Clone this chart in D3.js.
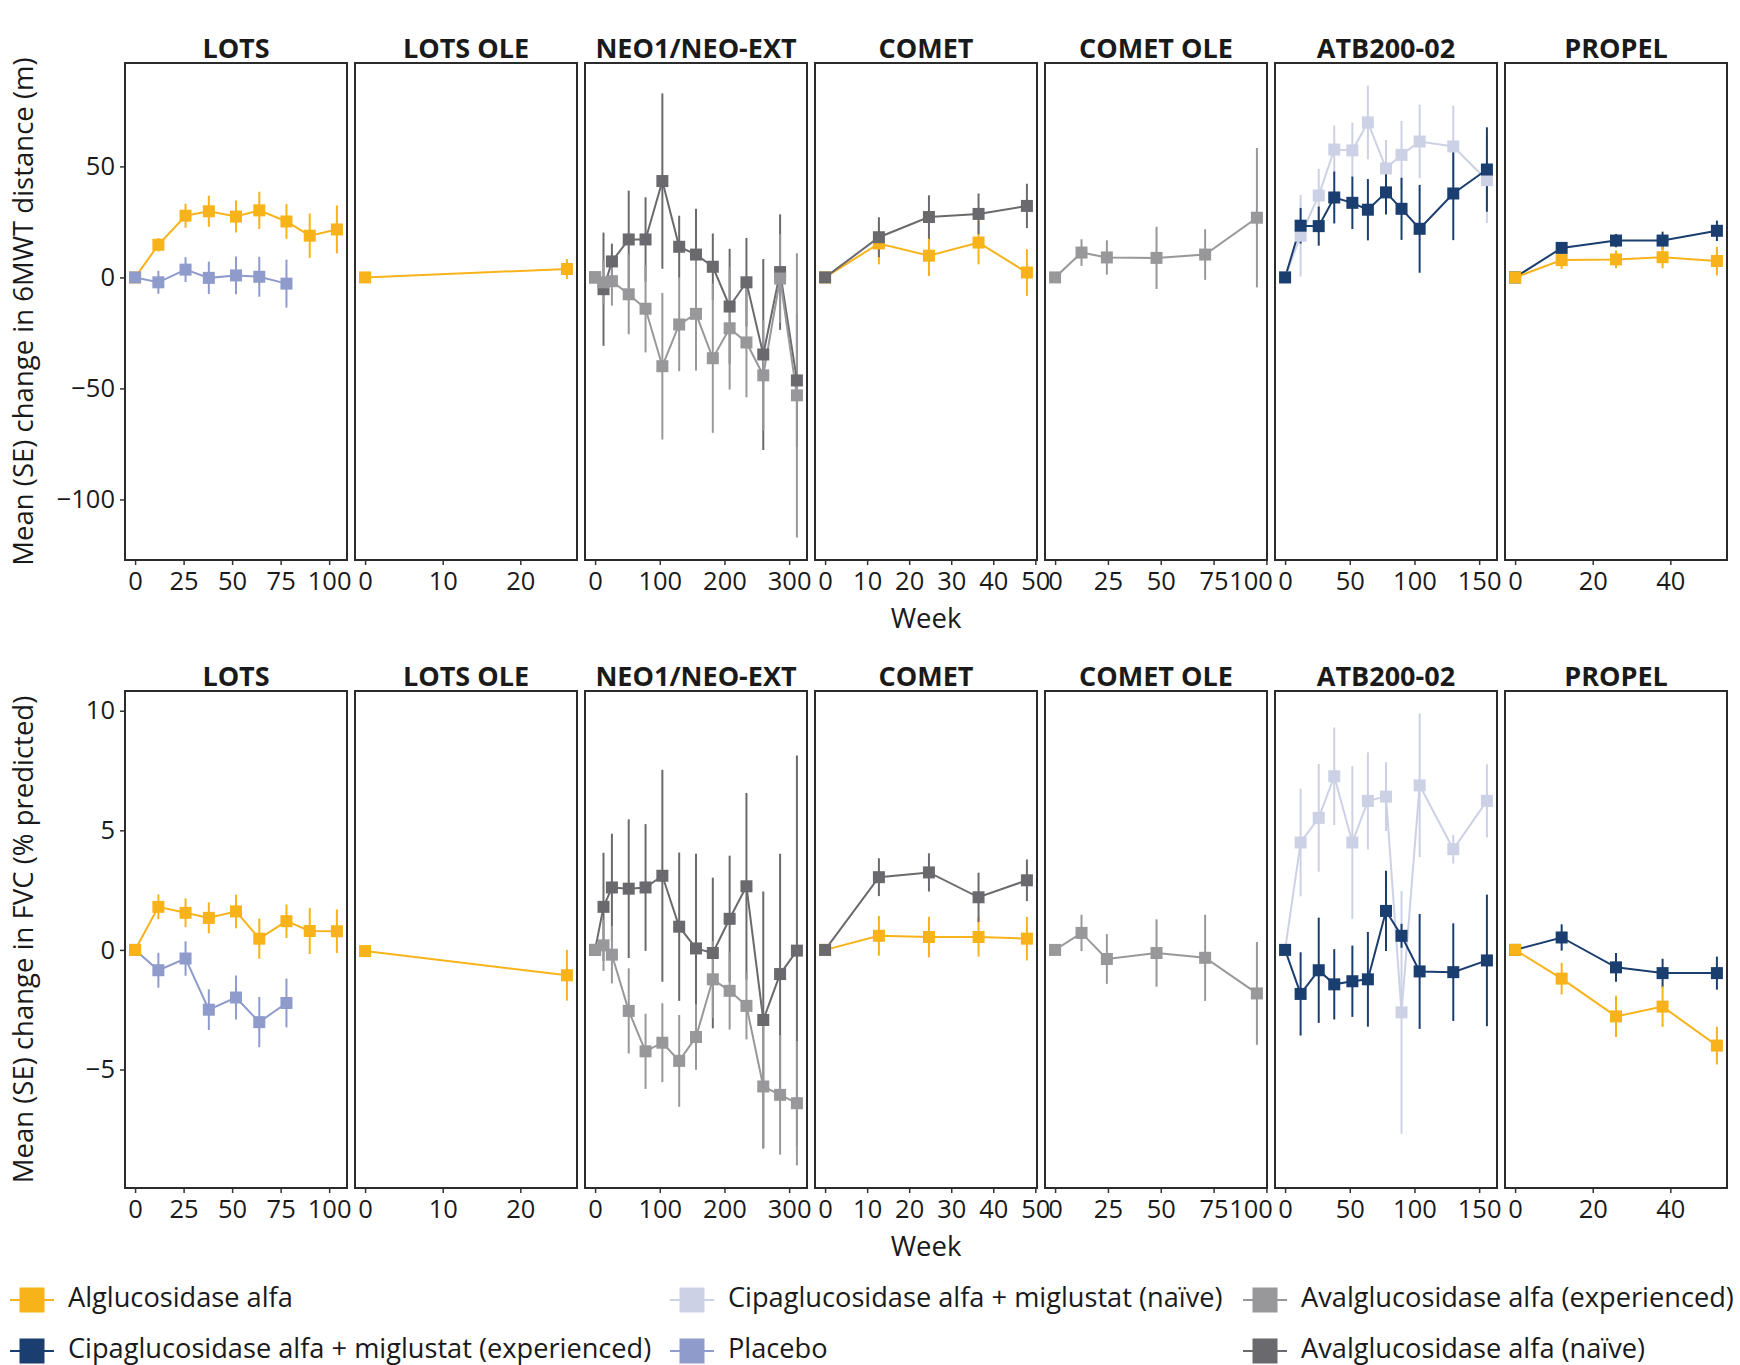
<!DOCTYPE html>
<html>
<head>
<meta charset="utf-8">
<script src="https://cdn.jsdelivr.net/npm/d3@7"></script>
<style>
  body { margin: 0; background: #fff; }
  text { font-family: "Open Sans", sans-serif; fill: #1a1a1a; }
</style>
</head>
<body>
<svg id="chart" width="1740" height="1365"></svg>
<script>
// studies (facets) and treatments (legend order)
const studies = ["LOTS", "LOTS OLE", "NEO1/NEO-EXT", "COMET", "COMET OLE", "ATB200-02", "PROPEL"];
const treatments = [
  "Alglucosidase alfa",
  "Cipaglucosidase alfa + miglustat (experienced)",
  "Cipaglucosidase alfa + miglustat (naïve)",
  "Placebo",
  "Avalglucosidase alfa (experienced)",
  "Avalglucosidase alfa (naïve)"
];
const trtColors = ["#f8b31a", "#1a3e6f", "#cdd1e5", "#8e9bcb", "#98989b", "#6a6a6e"];

const xTicks = [
  [0, 25, 50, 75, 100], [0, 10, 20], [0, 100, 200, 300], [0, 10, 20, 30, 40, 50],
  [0, 25, 50, 75, 100], [0, 50, 100, 150], [0, 20, 40]
];
const yTicks6mwt = [-100, -50, 0, 50];
const yTicksFvc = [-5, 0, 5, 10];
const yTitles = ["Mean (SE) change in 6MWT distance (m)", "Mean (SE) change in FVC (% predicted)"];

// ---- weeks
const lotsWeeks = [0, 12, 26, 38, 52, 64, 78, 90, 104];
const lotsPlaceboWeeks = [0, 12, 26, 38, 52, 64, 78];
const lotsOleWeeks = [0, 26];
const neoWeeks = [0, 13, 26, 52, 78, 104, 130, 156, 182, 208, 234, 260, 286, 312];
const cometWeeks = [0, 12.8, 24.7, 36.5, 48];
const cometOleWeeks = [0, 12.5, 24.5, 48, 71, 95.5];
const atbWeeks = [0, 12, 26, 38, 52, 64, 78, 90, 104, 130, 156];
const propelWeeks = [0, 12, 26, 38, 52];

// ---- 6MWT (m): mean and SE
const lots6mwtAlg = [0, 14.7, 27.8, 29.8, 27.4, 30.2, 25.2, 18.8, 21.6];
const lots6mwtAlgSE = [0, 3, 5.4, 7, 7.2, 8.4, 7.8, 10, 10.8];
const lots6mwtPla = [0, -2.2, 3.5, -0.2, 0.9, 0.3, -2.8];
const lots6mwtPlaSE = [0, 5.2, 5.6, 7.3, 8.5, 9, 10.8];
const lotsOle6mwtAlg = [0, 3.8];
const lotsOle6mwtAlgSE = [0, 4.5];
const neo6mwtNaive = [0, -5.3, 7.2, 17.1, 17.1, 43.4, 13.8, 10.3, 4.8, -13.1, -2.2, -34.7, 2.4, -46.4];
const neo6mwtNaiveSE = [0, 25.5, 8, 22, 19, 39.5, 14, 20.6, 15, 26, 20, 43, 26, 30];
const neo6mwtExp = [0, -2.2, -1.7, -7.6, -14.1, -40, -21.2, -16.4, -36.4, -22.9, -29.3, -44.1, -0.5, -53.1];
const neo6mwtExpSE = [0, 10, 11, 18, 19.7, 33, 21, 25.5, 33.6, 27.6, 24.7, 25, 20, 64];
const comet6mwtAlg = [0, 15.3, 9.8, 15.7, 2.2];
const comet6mwtAlgSE = [0, 9.4, 9.2, 9.8, 10.5];
const comet6mwtNaive = [0, 18.1, 27.2, 28.6, 32.2];
const comet6mwtNaiveSE = [0, 9, 9.8, 9.2, 10];
const cometOle6mwtExp = [0, 11.2, 9, 8.8, 10.3, 26.9];
const cometOle6mwtExpSE = [0, 6, 7.7, 14, 11.4, 31.4];
const atb6mwtExp = [0, 23.3, 23.1, 36, 33.6, 30.5, 38.3, 30.9, 21.9, 37.8, 48.6];
const atb6mwtExpSE = [0, 8, 8.8, 11.7, 11.8, 13.8, 10, 14, 19.8, 21, 19];
const atb6mwtNaive = [0, 18.8, 36.9, 57.6, 57.2, 69.8, 49.1, 55.2, 61.2, 59, 43.8];
const atb6mwtNaiveSE = [0, 18.4, 12, 10.8, 12.5, 16.6, 12.8, 15.3, 16.6, 18.4, 19.3];
const propel6mwtAlg = [0, 7.8, 8.1, 9.1, 7.4];
const propel6mwtAlgSE = [0, 4, 4, 5, 6.5];
const propel6mwtCipa = [0, 13.3, 16.6, 16.6, 21];
const propel6mwtCipaSE = [0, 2.5, 3, 4, 4.6];

// ---- FVC (% predicted): mean and SE
const lotsFvcAlg = [0, 1.8, 1.55, 1.34, 1.61, 0.47, 1.2, 0.79, 0.78];
const lotsFvcAlgSE = [0, 0.52, 0.6, 0.65, 0.7, 0.84, 0.7, 0.96, 0.91];
const lotsFvcPla = [0, -0.85, -0.36, -2.5, -1.99, -3.02, -2.22];
const lotsFvcPlaSE = [0, 0.73, 0.72, 0.85, 0.92, 1.05, 1.02];
const lotsOleFvcAlg = [-0.05, -1.06];
const lotsOleFvcAlgSE = [0, 1.06];
const neoFvcNaive = [0, 1.8, 2.61, 2.56, 2.61, 3.1, 0.97, 0.06, -0.13, 1.3, 2.66, -2.93, -1.01, -0.03];
const neoFvcNaiveSE = [0, 2.26, 2.25, 2.9, 2.65, 4.43, 3.1, 3.96, 3.15, 2.64, 3.9, 5.37, 5.03, 8.16];
const neoFvcExp = [0, 0.19, -0.2, -2.55, -4.24, -3.88, -4.64, -3.64, -1.23, -1.71, -2.34, -5.71, -6.06, -6.41];
const neoFvcExpSE = [0, 1.07, 1.2, 1.78, 1.57, 1.65, 1.92, 1.37, 1.6, 1.62, 1.4, 2.56, 2.5, 2.6];
const cometFvcAlg = [0, 0.59, 0.54, 0.54, 0.47];
const cometFvcAlgSE = [0, 0.83, 0.85, 0.82, 0.91];
const cometFvcNaive = [0, 3.04, 3.24, 2.2, 2.91];
const cometFvcNaiveSE = [0, 0.79, 0.8, 1.03, 0.87];
const cometOleFvcExp = [0, 0.71, -0.38, -0.13, -0.33, -1.82];
const cometOleFvcExpSE = [0, 0.76, 1.04, 1.41, 1.8, 2.15];
const atbFvcExp = [0, -1.84, -0.85, -1.44, -1.31, -1.23, 1.63, 0.59, -0.9, -0.93, -0.44];
const atbFvcExpSE = [0, 1.74, 2.2, 1.47, 1.49, 1.98, 1.68, 0.5, 2.4, 2.04, 2.75];
const atbFvcNaive = [0, 4.49, 5.52, 7.26, 4.49, 6.23, 6.41, -2.61, 6.88, 4.21, 6.23];
const atbFvcNaiveSE = [0, 2.25, 2.25, 2.04, 3.19, 2.03, 1.44, 5.07, 3, 0.6, 1.53];
const propelFvcAlg = [0, -1.2, -2.78, -2.37, -4.0];
const propelFvcAlgSE = [0, 0.66, 0.86, 0.85, 0.79];
const propelFvcCipa = [0, 0.52, -0.73, -0.97, -0.97];
const propelFvcCipaSE = [0, 0.55, 0.6, 0.6, 0.69];

// series table: [row, study, treatment, weeks, mean, se]  (listed in drawing order)
const seriesDefs = [
  [0, 0, 0, lotsWeeks, lots6mwtAlg, lots6mwtAlgSE],
  [0, 0, 3, lotsPlaceboWeeks, lots6mwtPla, lots6mwtPlaSE],
  [0, 1, 0, lotsOleWeeks, lotsOle6mwtAlg, lotsOle6mwtAlgSE],
  [0, 2, 5, neoWeeks, neo6mwtNaive, neo6mwtNaiveSE],
  [0, 2, 4, neoWeeks, neo6mwtExp, neo6mwtExpSE],
  [0, 3, 0, cometWeeks, comet6mwtAlg, comet6mwtAlgSE],
  [0, 3, 5, cometWeeks, comet6mwtNaive, comet6mwtNaiveSE],
  [0, 4, 4, cometOleWeeks, cometOle6mwtExp, cometOle6mwtExpSE],
  [0, 5, 2, atbWeeks, atb6mwtNaive, atb6mwtNaiveSE],
  [0, 5, 1, atbWeeks, atb6mwtExp, atb6mwtExpSE],
  [0, 6, 1, propelWeeks, propel6mwtCipa, propel6mwtCipaSE],
  [0, 6, 0, propelWeeks, propel6mwtAlg, propel6mwtAlgSE],
  [1, 0, 3, lotsPlaceboWeeks, lotsFvcPla, lotsFvcPlaSE],
  [1, 0, 0, lotsWeeks, lotsFvcAlg, lotsFvcAlgSE],
  [1, 1, 0, lotsOleWeeks, lotsOleFvcAlg, lotsOleFvcAlgSE],
  [1, 2, 5, neoWeeks, neoFvcNaive, neoFvcNaiveSE],
  [1, 2, 4, neoWeeks, neoFvcExp, neoFvcExpSE],
  [1, 3, 0, cometWeeks, cometFvcAlg, cometFvcAlgSE],
  [1, 3, 5, cometWeeks, cometFvcNaive, cometFvcNaiveSE],
  [1, 4, 4, cometOleWeeks, cometOleFvcExp, cometOleFvcExpSE],
  [1, 5, 2, atbWeeks, atbFvcNaive, atbFvcNaiveSE],
  [1, 5, 1, atbWeeks, atbFvcExp, atbFvcExpSE],
  [1, 6, 1, propelWeeks, propelFvcCipa, propelFvcCipaSE],
  [1, 6, 0, propelWeeks, propelFvcAlg, propelFvcAlgSE]
];

const series = seriesDefs.map(([row, study, trt, weeks, mean, se]) => ({
  row, study, trt,
  pts: weeks.map((w, i) => ({ w, m: mean[i], se: se[i] }))
}));

// layout
const panelX0 = 125, panelW = 222, panelStep = 230;
const rowTop = [63, 691], panelH = 497;
const pointSize = 12;

const svg = d3.select("#chart");

// expand like ggplot (5% each side)
function expand(ext) {
  const pad = (ext[1] - ext[0]) * 0.05;
  return [ext[0] - pad, ext[1] + pad];
}

const yScales = [0, 1].map(r => {
  const rs = series.filter(s => s.row === r).flatMap(s => s.pts);
  const ext = [d3.min(rs, p => p.m - p.se), d3.max(rs, p => p.m + p.se)];
  return d3.scaleLinear().domain(expand(ext)).range([rowTop[r] + panelH, rowTop[r]]);
});

const xScales = studies.map((st, i) => {
  const ws = series.filter(s => s.study === i).flatMap(s => s.pts.map(p => p.w));
  const left = panelX0 + i * panelStep;
  return d3.scaleLinear().domain(expand(d3.extent(ws))).range([left, left + panelW]);
});

const line = d3.line();

[0, 1].forEach(r => {
  const y = yScales[r];
  const top = rowTop[r];

  studies.forEach((st, i) => {
    const x = xScales[i];
    const left = panelX0 + i * panelStep;
    const g = svg.append("g");

    // strip title
    g.append("text")
      .attr("x", left + panelW / 2)
      .attr("y", top - 5)
      .attr("text-anchor", "middle")
      .style("font-weight", "700")
      .style("font-size", "27px")
      .text(st);

    const ps = series.filter(s => s.row === r && s.study === i);

    // error bars
    ps.forEach(s => {
      g.append("g").selectAll("line")
        .data(s.pts.filter(p => p.se > 0))
        .enter().append("line")
        .attr("x1", p => x(p.w)).attr("x2", p => x(p.w))
        .attr("y1", p => y(p.m - p.se)).attr("y2", p => y(p.m + p.se))
        .attr("stroke", trtColors[s.trt])
        .attr("stroke-width", 2);
    });
    // lines
    ps.forEach(s => {
      g.append("path")
        .attr("d", line(s.pts.map(p => [x(p.w), y(p.m)])))
        .attr("fill", "none")
        .attr("stroke", trtColors[s.trt])
        .attr("stroke-width", 2);
    });
    // points
    ps.forEach(s => {
      g.append("g").selectAll("rect")
        .data(s.pts)
        .enter().append("rect")
        .attr("x", p => x(p.w) - pointSize / 2)
        .attr("y", p => y(p.m) - pointSize / 2)
        .attr("width", pointSize)
        .attr("height", pointSize)
        .attr("fill", trtColors[s.trt]);
    });

    // x axis
    const xa = g.append("g")
      .attr("transform", `translate(0, ${top + panelH})`)
      .call(d3.axisBottom(x).tickValues(xTicks[i]).tickSize(5).tickPadding(7));
    xa.select(".domain").remove();
    xa.selectAll("line").attr("stroke", "#333").attr("stroke-width", 1.5);
    xa.selectAll("text").style("font-size", "25.5px").attr("fill", "#1a1a1a")
      .style("font-family", "'Open Sans', sans-serif");
    // the last COMET OLE label sits against the panel edge, pulled left as in the original
    if (i === 4) {
      xa.selectAll("text").filter(d => d === 100)
        .attr("text-anchor", "end").attr("dx", 6);
    }

    // y axis only on the first panel
    if (i === 0) {
      const ya = g.append("g")
        .attr("transform", `translate(${left}, 0)`)
        .call(d3.axisLeft(y).tickValues(r === 0 ? yTicks6mwt : yTicksFvc)
          .tickSize(5).tickPadding(5).tickFormat(d => d < 0 ? "\u2212" + Math.abs(d) : d));
      ya.select(".domain").remove();
      ya.selectAll("line").attr("stroke", "#333").attr("stroke-width", 1.5);
      ya.selectAll("text").style("font-size", "25.5px").attr("fill", "#1a1a1a")
        .style("font-family", "'Open Sans', sans-serif");
    }

    // panel border
    g.append("rect")
      .attr("x", left).attr("y", top)
      .attr("width", panelW).attr("height", panelH)
      .attr("fill", "none")
      .attr("stroke", "#2b2b2b")
      .attr("stroke-width", 2);
  });

  // y title
  svg.append("text")
    .attr("transform", `translate(33, ${top + panelH / 2}) rotate(-90)`)
    .attr("text-anchor", "middle")
    .style("font-size", "27.5px")
    .text(yTitles[r]);

  // x title
  svg.append("text")
    .attr("x", (panelX0 + 6 * panelStep + panelW + panelX0) / 2)
    .attr("y", top + panelH + 68)
    .attr("text-anchor", "middle")
    .style("font-size", "27.5px")
    .text("Week");
});

// legend: 3 columns x 2 rows, filled by column
const legendColX = [10, 670, 1243];
const legendRowY = [1300, 1351];
treatments.forEach((t, k) => {
  const col = Math.floor(k / 2), row = k % 2;
  const lx = legendColX[col], ly = legendRowY[row];
  const g = svg.append("g");
  g.append("line")
    .attr("x1", lx).attr("x2", lx + 44)
    .attr("y1", ly).attr("y2", ly)
    .attr("stroke", trtColors[k]).attr("stroke-width", 2);
  g.append("rect")
    .attr("x", lx + 9.5).attr("y", ly - 12.5)
    .attr("width", 25).attr("height", 25)
    .attr("fill", trtColors[k]);
  g.append("text")
    .attr("x", lx + 58)
    .attr("y", ly + 6.5)
    .style("font-size", "27.2px")
    .text(t);
});
</script>
</body>
</html>
